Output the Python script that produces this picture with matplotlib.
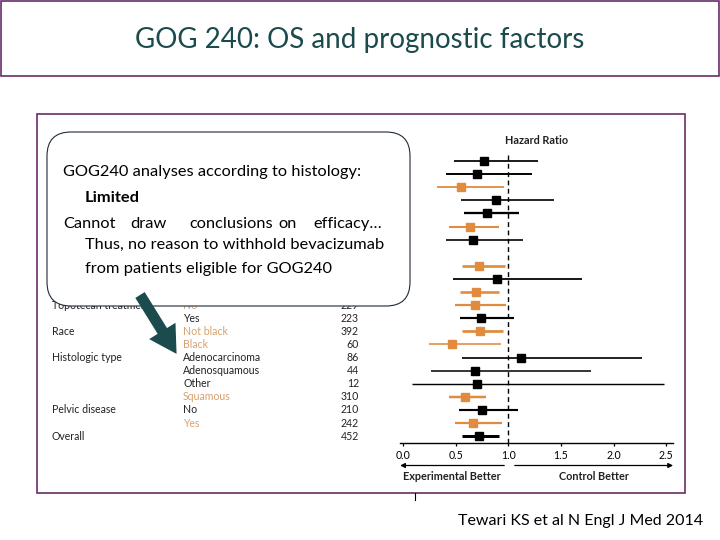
import matplotlib
matplotlib.use("Agg")
import matplotlib.pyplot as plt
import numpy as np
from matplotlib import transforms
from matplotlib.patches import Rectangle, FancyBboxPatch, FancyArrow

# ---------------- data ----------------
groups = ["Age", "", "", "", "GOG performance status", "", "Disease status", "", "",
          "Previous platinum", "", "Topotecan treatment", "", "Race", "",
          "Histologic type", "", "", "", "Pelvic disease", "", "Overall"]
subgroups = ["<40 yr", "40\u201349 yr", "50\u201359 yr", "\u226560 yr", "0", "1",
             "Advanced", "Persistent", "Recurrent", "No", "Yes", "No", "Yes",
             "Not black", "Black", "Adenocarcinoma", "Adenosquamous", "Other",
             "Squamous", "No", "Yes", ""]
n_patients = [100, 158, 118, 76, 262, 190, 72, 10, 370, 111, 341, 229, 223,
              392, 60, 86, 44, 12, 310, 210, 242, 452]
hr = [0.77, 0.70, 0.55, 0.88, 0.80, 0.635, 0.664, np.nan, 0.718, 0.89, 0.692,
      0.683, 0.737, 0.727, 0.468, 1.12, 0.683, 0.698, 0.588, 0.752, 0.664, 0.72]
ci_low = [0.48, 0.41, 0.32, 0.55, 0.575, 0.433, 0.405, np.nan, 0.556, 0.47, 0.537,
          0.49, 0.537, 0.556, 0.243, 0.556, 0.263, 0.082, 0.433, 0.528, 0.49, 0.556]
ci_high = [1.28, 1.22, 0.96, 1.435, 1.10, 0.907, 1.135, np.nan, 0.97, 1.70, 0.907,
           0.973, 1.05, 0.948, 0.926, 2.27, 1.78, 2.48, 0.784, 1.094, 0.942, 0.907]
highlight = [0, 0, 1, 0, 0, 1, 0, 0, 1, 0, 1, 1, 0, 1, 1, 0, 0, 0, 1, 0, 1, 0]
group_sizes = [4, 2, 3, 2, 2, 2, 4, 2, 1]
xticks = [0.0, 0.5, 1.0, 1.5, 2.0, 2.5]

ORANGE = "#E08B3D"
ORANGE_TXT = "#D9A16E"
TEAL = "#1C4B4D"
PURPLE = "#6A2C6A"
GREY = "#EBEDED"
FONT = "Lato"

plt.rcParams['font.family'] = [FONT, 'DejaVu Sans']

fig = plt.figure(figsize=(7.2, 5.4), dpi=100)
ax_bg = fig.add_axes([0, 0, 1, 1])
ax_bg.set_xlim(0, 720)
ax_bg.set_ylim(540, 0)
ax_bg.axis("off")

# title box
ax_bg.add_patch(Rectangle((0.8, 0.8), 718.4, 75, fill=False, ec=PURPLE, lw=1.2))
ax_bg.text(360, 40, "GOG 240: OS and prognostic factors", ha="center", va="center",
           fontsize=20, color=TEAL)

# panel frame
ax_bg.add_patch(Rectangle((37, 114), 648, 379, fc="white", ec=PURPLE, lw=1.2))
ax_bg.plot([415, 415], [493, 500], color="black", lw=0.8)

# citation
ax_bg.text(703, 521, "Tewari KS et al N Engl J Med 2014", ha="right", va="center",
           fontsize=11.5, color="black")

# callout geometry (pixels)
CALLOUT = (47, 132, 363, 174)

# forest axes
px_left, px_right, px_top, px_bot = 400.1, 673.1, 148, 442.7
ax = fig.add_axes([px_left / 720, (540 - px_bot) / 540,
                   (px_right - px_left) / 720, (px_bot - px_top) / 540])
ax.patch.set_alpha(0)
row_px0, row_step = 161.0, 13.1
ax.set_xlim(-0.03, 2.565)
ax.set_ylim((px_bot - row_px0) / row_step, (px_top - row_px0) / row_step)

n = len(hr)
rows = np.arange(n)

# bands (x in pixels, y in rows)
band_tr = transforms.blended_transform_factory(ax_bg.transData, ax.transData)
start = 0
for gi, gs in enumerate(group_sizes):
    for r in range(start, start + gs):
        if gi % 2 == 0:
            ax_bg.add_patch(Rectangle((46, r - 0.46), 636, 0.92, transform=band_tr,
                                      fc=GREY, ec="none", zorder=0))
        else:
            if r > start:
                ax_bg.plot([46, 682], [r - 0.5, r - 0.5], transform=band_tr,
                           color="#F0F0F0", lw=0.8, zorder=0)
    start += gs

# table text (rows fully hidden behind the callout are not written)
callout_bottom_row = (CALLOUT[1] + CALLOUT[3] - row_px0) / row_step
for r in rows:
    if r + 0.3 < callout_bottom_row:
        continue
    col_t = ORANGE_TXT if highlight[r] else "#222222"
    if groups[r]:
        ax_bg.text(52, r, groups[r], transform=band_tr, ha="left", va="center",
                   fontsize=7.6, color="#222222")
    if subgroups[r]:
        ax_bg.text(183, r, subgroups[r], transform=band_tr, ha="left", va="center",
                   fontsize=7.6, color=col_t)
    ax_bg.text(359, r, str(n_patients[r]), transform=band_tr, ha="right", va="center",
               fontsize=7.6, color="#222222")

# forest marks
for r in rows:
    if np.isnan(hr[r]):
        continue
    c = ORANGE if highlight[r] else "black"
    lw = 1.0 + n_patients[r] / 400
    ax.plot([ci_low[r], ci_high[r]], [r, r], color=c, lw=lw, solid_capstyle="butt",
            zorder=3)
    ax.plot(hr[r], r, marker="s", ms=5.2 + n_patients[r] / 600, color=c,
            mec=c, zorder=4)

ax.vlines(1.0, -0.45, (px_bot - row_px0) / row_step, colors="black", lw=1.0,
          linestyles=(0, (3.5, 2.5)), zorder=2)
ax.text(1.27, -1.55, "Hazard Ratio", ha="center", va="center", fontsize=7.8,
        fontweight="bold", color="#222222")

for s in ["top", "right", "left"]:
    ax.spines[s].set_visible(False)
ax.spines["bottom"].set_linewidth(1.0)
ax.set_yticks([])
ax.set_xticks(xticks)
ax.set_xticklabels([f"{t:.1f}" for t in xticks])
ax.tick_params(axis="x", direction="out", length=2.5, width=0.9, pad=2.5,
               labelsize=7.6, colors="black")

# arrows below axis
arr_tr = transforms.blended_transform_factory(ax.transData, ax_bg.transData)
ax_bg.annotate("", xy=(-0.03, 465.5), xytext=(0.96, 465.5), xycoords=arr_tr,
               textcoords=arr_tr,
               arrowprops=dict(arrowstyle="-|>", color="black", lw=0.9,
                               mutation_scale=7, shrinkA=0, shrinkB=0))
ax_bg.annotate("", xy=(2.565, 465.5), xytext=(1.06, 465.5), xycoords=arr_tr,
               textcoords=arr_tr,
               arrowprops=dict(arrowstyle="-|>", color="black", lw=0.9,
                               mutation_scale=7, shrinkA=0, shrinkB=0))
ax_bg.text(0.46, 476, "Experimental Better", transform=arr_tr, ha="center",
           va="center", fontsize=7.8, fontweight="bold", color="#222222")
ax_bg.text(1.81, 476, "Control Better", transform=arr_tr, ha="center",
           va="center", fontsize=7.8, fontweight="bold", color="#222222")

# top overlay: callout + arrow
ax_top = fig.add_axes([0, 0, 1, 1])
ax_top.set_xlim(0, 720)
ax_top.set_ylim(540, 0)
ax_top.axis("off")
ax_top.patch.set_alpha(0)
ax_top.add_patch(FancyBboxPatch(CALLOUT[:2], CALLOUT[2], CALLOUT[3],
                                boxstyle="round,pad=0,rounding_size=24",
                                fc="white", ec="#1E2A3A", lw=0.8))
FS = 11.8
ax_top.text(63, 172, "GOG240 analyses according to histology:", ha="left",
            va="center", fontsize=FS, color="black")
ax_top.text(85, 198, "Limited", ha="left", va="center", fontsize=FS,
            fontweight="bold", color="black")
for wx, w in [(63, "Cannot"), (130, "draw"), (189, "conclusions"), (278, "on"),
              (313, "efficacy\u2026")]:
    ax_top.text(wx, 224, w, ha="left", va="center", fontsize=FS, color="black")
ax_top.text(85, 245, "Thus, no reason to withhold bevacizumab", ha="left",
            va="center", fontsize=FS, color="black")
ax_top.text(85, 269, "from patients eligible for GOG240", ha="left",
            va="center", fontsize=FS, color="black")

ax_top.add_patch(FancyArrow(140, 295, 36 * 0.62, 58 * 0.62, width=11,
                            head_width=31, head_length=27,
                            length_includes_head=False, fc=TEAL, ec=TEAL, lw=0))

fig.savefig("out.png", dpi=100)
